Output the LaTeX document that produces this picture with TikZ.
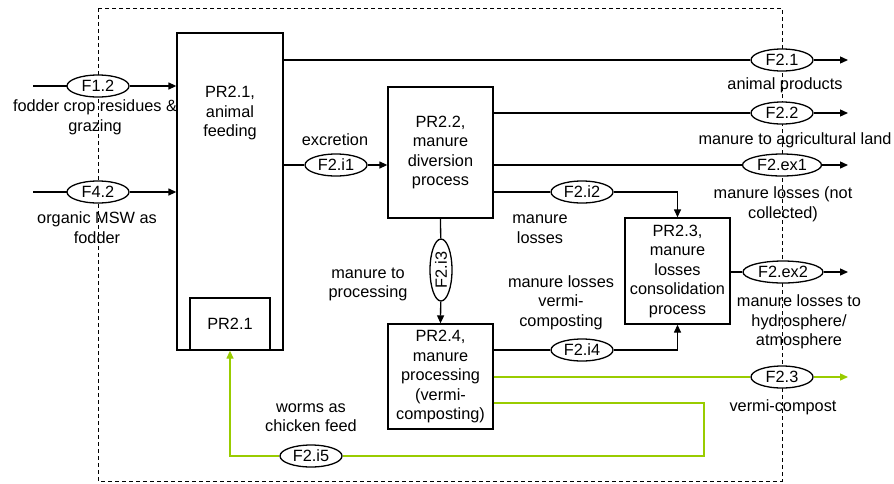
\documentclass[tikz,border=0pt]{standalone}
\usepackage{fontspec}
\setmainfont{Liberation Sans}
\usetikzlibrary{shapes.geometric,arrows.meta}
\definecolor{flowGreen}{RGB}{153,204,0}

\begin{document}
\begin{tikzpicture}[x=1pt,y=-1pt,
    font=\fontsize{16.3}{19.5}\selectfont,
    line width=1.3pt,
    procbox/.style={draw,inner sep=0pt,align=center},
    flow/.style={draw,ellipse,fill=white,minimum width=62pt,minimum height=22pt,inner sep=0.5pt},
    note/.style={align=center,inner sep=0pt},
    arr/.style={-{Triangle[length=8pt,width=7pt]}}]
  \useasboundingbox (0,0) rectangle (894,483);
  % system boundary
  \draw[line width=1pt,dash pattern=on 4pt off 3pt] (98,8) rectangle (782,481);

  % processes
  \node[procbox,minimum width=106pt,minimum height=317pt] (pr21) at (230,191.5) {};
  \node[note] (pr21txt) at (230,113) {PR2.1,\\animal\\feeding};
  \node[procbox,minimum width=80pt,minimum height=52pt] (pr21sub) at (230,324) {PR2.1};
  \node[procbox,minimum width=105pt,minimum height=131pt] (pr22) at (440.5,152.5) {PR2.2,\\manure\\diversion\\process};
  \node[procbox,minimum width=105pt,minimum height=106pt] (pr23) at (677.5,271) {PR2.3,\\manure\\losses\\consolidation\\process};
  \node[procbox,minimum width=105pt,minimum height=105pt] (pr24) at (440.5,376.5) {PR2.4,\\manure\\processing\\(vermi-\\composting)};

  % inputs
  \coordinate (in12) at (33,86);
  \coordinate (in42) at (33,192);
  \draw (in12) -- (98,86) node[flow] (f12) {F1.2};
  \draw[arr] (f12) -- (pr21.west |- f12);
  \node[note] (f12txt) at (95,117.5) {fodder crop residues \&\\grazing};
  \draw (in42) -- (98,192) node[flow] (f42) {F4.2};
  \draw[arr] (f42) -- (pr21.west |- f42);
  \node[note] (f42txt) at (97,227.5) {organic MSW as\\fodder};

  % outputs of PR2.1
  \node[flow] (f21) at (782,60) {F2.1};
  \coordinate (out21) at (848,60);
  \draw (pr21.east |- f21) -- (f21);
  \draw[arr] (f21) -- (out21);
  \node[note] (f21txt) at (785,85) {animal products};
  \node[flow] (f2i1) at (336,165) {F2.i1};
  \draw (pr21.east |- f2i1) -- (f2i1);
  \draw[arr] (f2i1) -- (pr22.west |- f2i1);
  \node[note] (f2i1txt) at (335,140) {excretion};

  % outputs of PR2.2
  \node[flow] (f22) at (782,113) {F2.2};
  \coordinate (out22) at (848,113);
  \draw (pr22.east |- f22) -- (f22);
  \draw[arr] (f22) -- (out22);
  \node[note] (f22txt) at (795,140) {manure to agricultural land};
  \node[flow,minimum width=79pt] (f2ex1) at (782,165) {F2.ex1};
  \coordinate (outex1) at (848,165);
  \draw (pr22.east |- f2ex1) -- (f2ex1);
  \draw[arr] (f2ex1) -- (outex1);
  \node[note] (f2ex1txt) at (783,204.5) {manure losses (not\\collected)};
  \node[flow] (f2i2) at (582,192) {F2.i2};
  \draw (pr22.east |- f2i2) -- (f2i2);
  \draw[arr] (f2i2) -| (pr23.north);
  \node[note] (f2i2txt) at (540,229) {manure\\losses};
  \node[flow,rotate=90] (f2i3) at (441,270) {F2.i3};
  \draw (pr22.south) -- (f2i3);
  \draw[arr] (f2i3) -- (pr24.north);
  \node[note] (f2i3txt) at (368,284.5) {manure to\\processing};

  % outputs of PR2.3
  \node[flow,minimum width=80pt] (f2ex2) at (783,272) {F2.ex2};
  \coordinate (outex2) at (848,272);
  \draw (pr23.east |- f2ex2) -- (f2ex2);
  \draw[arr] (f2ex2) -- (outex2);
  \node[note] (f2ex2txt) at (799,322) {manure losses to\\hydrosphere/\\atmosphere};

  % outputs of PR2.4
  \node[flow] (f2i4) at (582,350) {F2.i4};
  \draw (pr24.east |- f2i4) -- (f2i4);
  \draw[arr] (f2i4) -| (pr23.south);
  \node[note] (f2i4txt) at (561,302.5) {manure losses\\vermi-\\composting};
  \node[flow] (f23) at (782,377) {F2.3};
  \coordinate (out23) at (848,377);
  \draw[flowGreen] (pr24.east |- f23) -- (f23);
  \draw[flowGreen,arr] (f23) -- (out23);
  \node[note] (f23txt) at (783,407) {vermi-compost};
  \node[flow] (f2i5) at (311,456) {F2.i5};
  \coordinate (loop1) at (704,403);
  \coordinate (loop2) at (704,456);
  \draw[flowGreen] (pr24.east |- loop1) -- (loop1) -- (loop2) -- (f2i5);
  \draw[flowGreen,arr] (f2i5) -| (pr21sub.south);
  \node[note] (f2i5txt) at (311,417.5) {worms as\\chicken feed};
\end{tikzpicture}
\end{document}
